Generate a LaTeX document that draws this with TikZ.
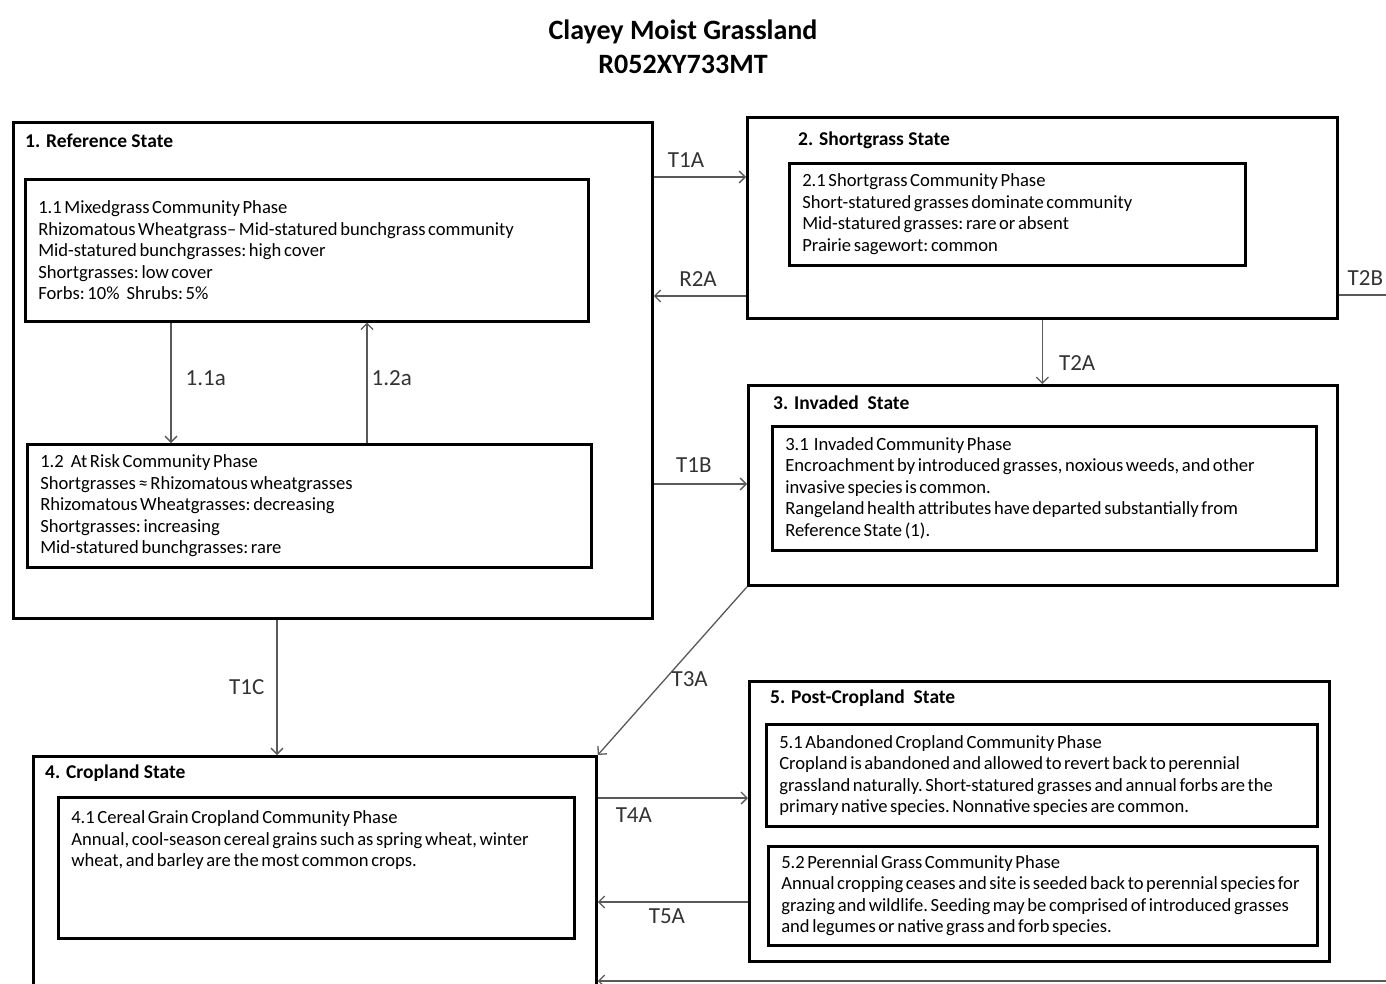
\documentclass[tikz,border=0pt]{standalone}
\usepackage{fontspec}
\setmainfont{Carlito}
\newcommand\phasetype{\fontsize{18.6}{21.5}\selectfont}
\newcommand\tightspaces{\frenchspacing\spaceskip=0.14em plus 0.05em minus 0.02em\xspaceskip=0.14em\relax}
\usetikzlibrary{arrows.meta}
\begin{document}
\begin{tikzpicture}[x=1pt, y=-1pt, >={Straight Barb[length=6pt,width=12pt]},
    statebox/.style={draw, line width=2.8pt, anchor=north west, inner sep=0pt},
    phase/.style={draw, line width=2.6pt, anchor=north west, align=left, inner xsep=13pt, inner ysep=0pt,
        font=\phasetype, execute at begin node=\tightspaces},
    statename/.style={anchor=west, inner sep=0pt, font=\bfseries\fontsize{19.5}{22}\selectfont},
    trans/.style={draw=black!65, line width=1.3pt, ->},
    tlab/.style={font=\fontsize{23}{26}\selectfont, text=black!80, inner sep=0pt}]
    \useasboundingbox (0,0) rectangle (1386,983);
    \clip (0,0) rectangle (1386,983);

    \node[font=\bfseries\fontsize{28}{34}\selectfont, align=center] (title) at (683,47) {Clayey Moist Grassland\\R052XY733MT};

    % states
    \node[statebox, minimum width=639pt, minimum height=496pt] (ref) at (12,121) {};
    \node[statebox, minimum width=590pt, minimum height=201pt] (short) at (746,116) {};
    \node[statebox, minimum width=589pt, minimum height=200pt] (inv) at (747,384) {};
    \node[statebox, minimum width=563pt, minimum height=300pt] (crop) at (32,755) {};
    \node[statebox, minimum width=580pt, minimum height=280pt] (post) at (748,680) {};

    \node[statename] (refname) at (25,141) {1. Reference State};
    \node[statename] (shortname) at (798,140) {2. Shortgrass State};
    \node[statename] (invname) at (773,403) {3. Invaded\ \ State};
    \node[statename] (cropname) at (45,773) {4. Cropland State};
    \node[statename] (postname) at (770,698) {5. Post-Cropland\ \ State};

    % community phases
    \node[phase, text width=537pt, minimum height=142pt] (mixed) at (24,178) {1.1 Mixedgrass Community Phase\\
        Rhizomatous Wheatgrass-- Mid-statured bunchgrass community\\
        Mid-statured bunchgrasses: high cover\\
        Shortgrasses: low cover\\
        Forbs: 10\%\hspace{7pt}Shrubs: 5\%};
    \node[phase, text width=538pt, minimum height=123pt] (atrisk) at (26,443) {1.2\hspace{7pt}At Risk Community Phase\\
        Shortgrasses ≈ Rhizomatous wheatgrasses\\
        Rhizomatous Wheatgrasses: decreasing\\
        Shortgrasses: increasing\\
        Mid-statured bunchgrasses: rare};
    \node[phase, text width=430pt, minimum height=102pt] (shortph) at (788,162) {2.1 Shortgrass Community Phase\\
        Short-statured grasses dominate community\\
        Mid-statured grasses: rare or absent\\
        Prairie sagewort: common};
    \node[phase, text width=518pt, minimum height=124pt] (invph) at (771,425) {3.1\hspace{5pt}Invaded Community Phase\\
        Encroachment by introduced grasses, noxious weeds, and other\\
        invasive species is common.\\
        Rangeland health attributes have departed substantially from\\
        Reference State (1).};
    \node[phase, text width=490pt, minimum height=141pt] (cereal) at (57,796) {\parbox[c][114pt][t]{490pt}{\tightspaces
        4.1 Cereal Grain Cropland Community Phase\\
        Annual, cool-season cereal grains such as spring wheat, winter\\
        wheat, and barley are the most common crops.}};
    \node[phase, text width=525pt, minimum height=102pt] (aband) at (765,723) {5.1 Abandoned Cropland Community Phase\\
        Cropland is abandoned and allowed to revert back to perennial\\
        grassland naturally. Short-statured grasses and annual forbs are the\\
        primary native species. Nonnative species are common.};
    \node[phase, text width=523pt, minimum height=99pt] (perenn) at (767,845) {5.2 Perennial Grass Community Phase\\
        Annual cropping ceases and site is seeded back to perennial species for\\
        grazing and wildlife. Seeding may be comprised of introduced grasses\\
        and legumes or native grass and forb species.};

    \coordinate (t2bend) at (1392,295);
    \coordinate (t5bend) at (1392,981);

    % pathways and transitions
    \draw[trans] ([xshift=147pt]mixed.south west) to node[tlab, right=14pt, pos=0.46] {1.1a} ([xshift=145pt]atrisk.north west);
    \draw[trans] ([xshift=341pt]atrisk.north west) to node[tlab, right=4pt, pos=0.54] {1.2a} ([xshift=343pt]mixed.south west);
    \draw[trans] ([yshift=-56pt]ref.north east) to node[tlab, above=9pt, pos=0.35] {T1A} ([yshift=-56pt]ref.north east -| short.west);
    \draw[trans] ([yshift=-180pt]short.north west) to node[tlab, above=9pt, pos=0.52] {R2A} ([yshift=-180pt]short.north west -| ref.east);
    \draw[trans, -] ([yshift=-179pt]short.north east) to node[tlab, above=9pt, pos=0.5] {T2B} (t2bend);
    \draw[trans] (short.south) to node[tlab, right=16pt, pos=0.67] {T2A} (short.south |- inv.north);
    \draw[trans] ([yshift=-363pt]ref.north east) to node[tlab, above=11pt, pos=0.43] {T1B} ([yshift=-363pt]ref.north east -| inv.west);
    \draw[trans] ([xshift=265pt]ref.south west) to node[tlab, left=12pt, pos=0.5] {T1C} ([xshift=265pt]ref.south west |- crop.north);
    \draw[trans] (inv.south west) to node[tlab, right=6pt, pos=0.55] {T3A} (crop.north east);
    \draw[trans] ([yshift=-43pt]crop.north east) to node[tlab, below=9pt, pos=0.24] {T4A} ([yshift=-43pt]crop.north east -| post.west);
    \draw[trans] ([yshift=-222pt]post.north west) to node[tlab, below=6pt, pos=0.54] {T5A} ([yshift=-222pt]post.north west -| crop.east);
    \draw[trans] (t5bend) to (t5bend -| crop.east);
\end{tikzpicture}
\end{document}
